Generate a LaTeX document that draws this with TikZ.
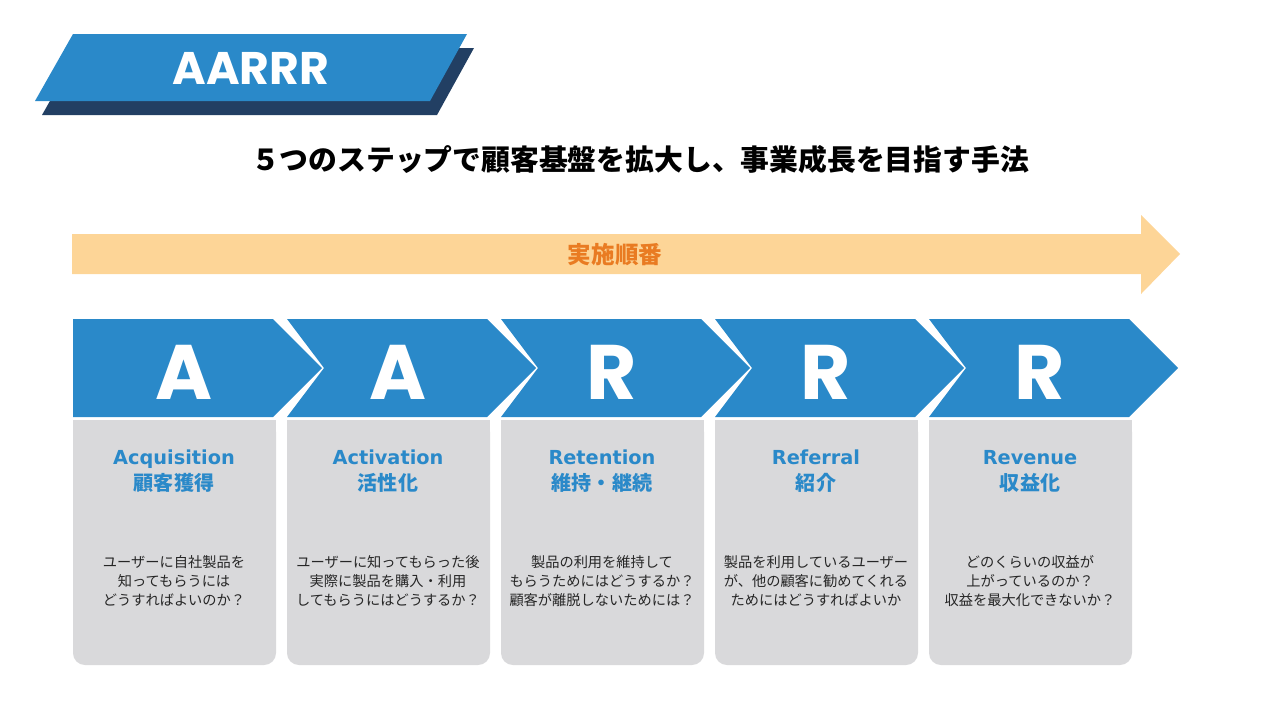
\documentclass[tikz,border=0pt]{standalone}
\usepackage{fontspec}
\setmainfont{Noto Sans CJK JP}
\newfontfamily\headfont{Poppins}
\newfontfamily\labfont{DejaVu Sans}
\definecolor{stepblue}{HTML}{2A89C9}
\definecolor{navy}{HTML}{223F63}
\definecolor{boxgray}{HTML}{D9D9DB}
\definecolor{flowfill}{HTML}{FDD597}
\definecolor{flowtext}{HTML}{E97B22}
\definecolor{bodytext}{HTML}{262626}

\begin{document}
\begin{tikzpicture}[x=0.02cm,y=-0.02cm,
    head/.style={font=\headfont\bfseries, text=white, inner sep=0pt},
    stagelab/.style={font=\labfont\bfseries\fontsize{11}{13}\selectfont, text=stepblue, anchor=base, inner sep=0pt},
    stagejp/.style={font=\bfseries\fontsize{11.4}{13}\selectfont, text=stepblue, anchor=base, inner sep=0pt},
    stagebody/.style={font=\fontsize{8.1}{10.8}\selectfont, text=bodytext, align=center, inner sep=0pt}]
    \useasboundingbox (0,0) rectangle (1280,720);

    % Title banner
    \fill[navy] (80,48) -- (474,48) -- (437,115) -- (42,115) -- cycle;
    \fill[stepblue] (73,34) -- (467,34) -- (430,101) -- (35,101) -- cycle;
    \node[head, font=\headfont\bfseries\fontsize{26}{30}\selectfont] (banner) at (251,68) {AARRR};

    % Subtitle
    \node[font=\bfseries\fontsize{16.4}{20}\selectfont, inner sep=0pt] (subtitle) at (640,160)
        {５つのステップで顧客基盤を拡大し、事業成長を目指す手法};

    % Order arrow
    \fill[flowfill] (72,234) -- (1141,234) -- (1141,215) -- (1180,254) -- (1141,294) -- (1141,274) -- (72,274) -- cycle;
    \node[font=\bfseries\fontsize{13.4}{16}\selectfont, text=flowtext, inner sep=0pt] (order) at (615,255) {実施順番};

    % Five stages
    \foreach \k/\ltr/\en/\jp/\body in {
        1/A/Acquisition/顧客獲得/{ユーザーに自社製品を\\知ってもらうには\\どうすればよいのか？},
        2/A/Activation/活性化/{ユーザーに知ってもらった後\\実際に製品を購入・利用\\してもらうにはどうするか？},
        3/R/Retention/維持・継続/{製品の利用を維持して\\もらうためにはどうするか？\\顧客が離脱しないためには？},
        4/R/Referral/紹介/{製品を利用しているユーザー\\が、他の顧客に勧めてくれる\\ためにはどうすればよいか},
        5/R/Revenue/収益化/{どのくらいの収益が\\上がっているのか？\\収益を最大化できないか？}}
    {
        \pgfmathsetmacro\L{73+214*(\k-1)}
        \pgfmathsetmacro\notch{\k==1 ? 0 : 37}
        % chevron
        \fill[stepblue] (\L,319) -- (\L+200,319) -- (\L+249,368) -- (\L+200,417) -- (\L,417) -- (\L+\notch,368) -- cycle;
        \node[head, font=\headfont\bfseries\fontsize{44}{50}\selectfont] (ltr\k) at (\L+111,372) {\ltr};
        % card
        \fill[boxgray, rounded corners=6.8pt] (\L,420) rectangle (\L+203,665);
        \fill[boxgray] (\L,420) rectangle (\L+203,450);
        \node[stagelab] (en\k) at (\L+101,464) {\en};
        \node[stagejp] (jp\k) at (\L+101,490) {\jp};
        \node[stagebody] (txt\k) at (\L+101,581) {\body};
    }
\end{tikzpicture}
\end{document}
